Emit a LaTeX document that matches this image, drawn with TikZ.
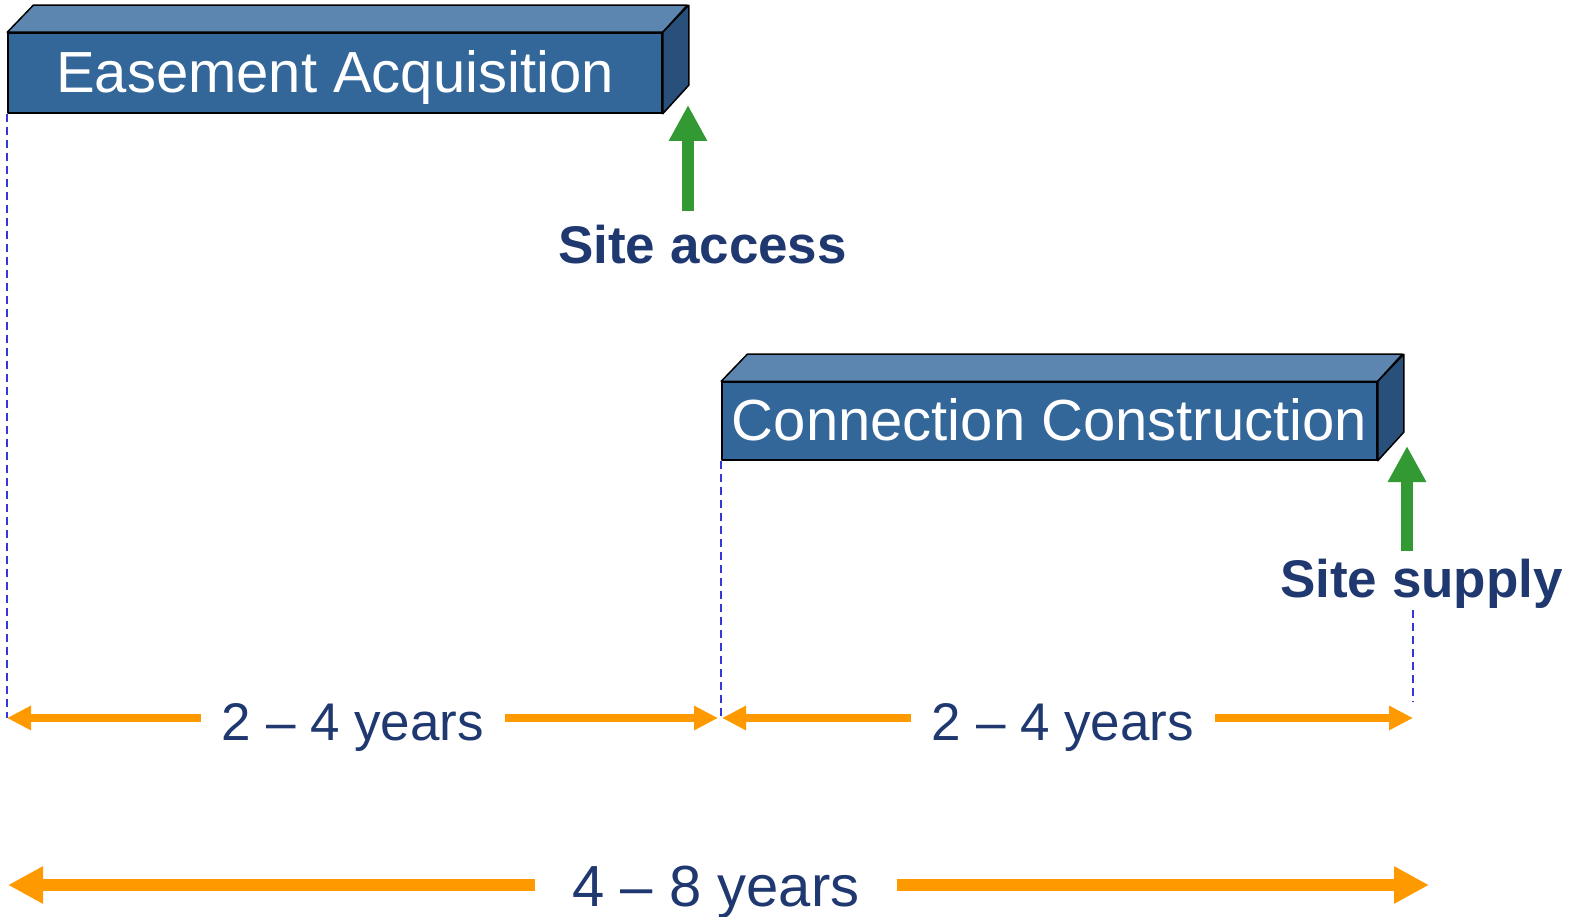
\documentclass[tikz,border=0pt]{standalone}
\usepackage{fontspec}
\setmainfont{Liberation Sans}
\usetikzlibrary{arrows.meta}
\definecolor{slabfront}{RGB}{51,102,153}
\definecolor{slabtop}{RGB}{92,134,175}
\definecolor{slabside}{RGB}{40,80,122}
\definecolor{navyblue}{RGB}{31,56,112}
\definecolor{spanorange}{RGB}{255,153,0}
\definecolor{milegreen}{RGB}{51,153,51}
\definecolor{guideblue}{RGB}{55,55,215}

\begin{document}
\begin{tikzpicture}[x=1pt,y=-1pt,
    phase/.style={draw=black,line width=1.5pt,line join=round,fill=slabfront,text=white,
        font=\fontsize{58}{59}\selectfont,inner sep=0pt,text height=42pt,text depth=3pt},
    slabface/.style={draw=black,line width=1.5pt,line join=round},
    milelabel/.style={text=navyblue,font=\bfseries\fontsize{53}{54}\selectfont,inner sep=2pt,anchor=base west},
    milestone/.style={draw=milegreen,line width=12pt,-{Triangle[length=36pt,width=36pt]}},
    yrs/.style={text=navyblue,font=\fontsize{53}{54}\selectfont,inner ysep=0pt,inner xsep=21pt,anchor=base},
    bigyrs/.style={yrs,font=\fontsize{58}{59}\selectfont,inner xsep=37pt},
    spanarr/.style={draw=spanorange,line width=8pt,-{Triangle[length=24pt,width=23pt]}},
    bigspanarr/.style={draw=spanorange,line width=12pt,-{Triangle[length=35pt,width=35pt]}},
    guide/.style={draw=guideblue,line width=2pt,dash pattern=on 8pt off 5pt}]
    \useasboundingbox (0,0) rectangle (1580,917);

    \node[phase,minimum width=654pt,minimum height=80pt] (ease) at (335,73) {Easement Acquisition};
    \draw[slabface,fill=slabtop] (ease.north west) -- ++(26,-27) -- ++(654,0) -- (ease.north east) -- cycle;
    \draw[slabface,fill=slabside] (ease.north east) -- ++(26,-27) -- ++(0,80) -- (ease.south east) -- cycle;

    \node[phase,minimum width=655pt,minimum height=78pt] (conn) at (1049.5,421) {Connection Construction};
    \draw[slabface,fill=slabtop] (conn.north west) -- ++(26,-27) -- ++(655,0) -- (conn.north east) -- cycle;
    \draw[slabface,fill=slabside] (conn.north east) -- ++(26,-27) -- ++(0,78) -- (conn.south east) -- cycle;

    \coordinate (accTip) at (688,105);
    \coordinate (supTip) at (1407,446);
    \node[milelabel] (acc) at (556,264) {Site access};
    \node[milelabel] (sup) at (1278,597) {Site supply};
    \draw[milestone,shorten <=12pt] (acc.north -| accTip) -- (accTip);
    \draw[milestone,shorten <=5pt] (sup.north -| supTip) -- (supTip);

    \coordinate (a1L) at (7,718);
    \coordinate (a1R) at (718,718);
    \coordinate (a2L) at (722,718);
    \coordinate (a2R) at (1413,718);
    \coordinate (b1L) at (8,885);
    \coordinate (b1R) at (1429,885);

    \draw[guide] (ease.south west) -- (ease.south west |- a1L);
    \draw[guide] (conn.south west) -- (conn.south west |- a2L);
    \draw[guide] (sup.south -| a2R) -- ++(0,92);

    \node[yrs] (y1) at (353,740) {2 -- 4 years};
    \draw[spanarr] (y1.west |- a1L) -- (a1L);
    \draw[spanarr] (y1.east |- a1R) -- (a1R);

    \node[yrs] (y2) at (1063,740) {2 -- 4 years};
    \draw[spanarr] (y2.west |- a2L) -- (a2L);
    \draw[spanarr] (y2.east |- a2R) -- (a2R);

    \node[bigyrs] (y3) at (716,906) {4 -- 8 years};
    \draw[bigspanarr] (y3.west |- b1L) -- (b1L);
    \draw[bigspanarr] (y3.east |- b1R) -- (b1R);
\end{tikzpicture}
\end{document}
